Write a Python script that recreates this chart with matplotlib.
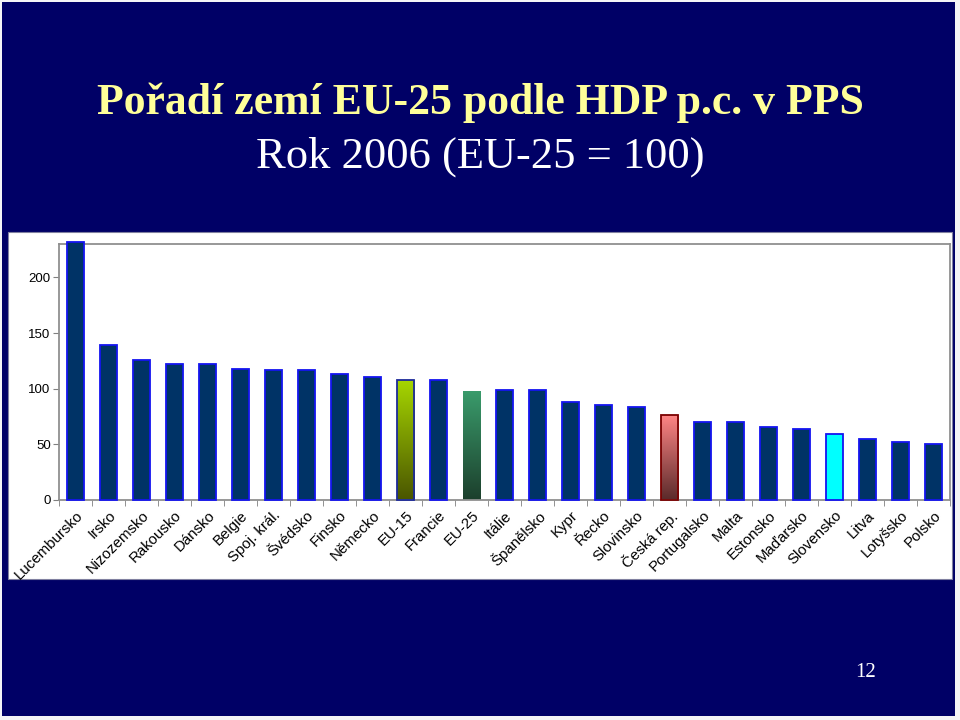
import numpy as np
import matplotlib.pyplot as plt
from matplotlib.patches import Rectangle
from matplotlib.colors import LinearSegmentedColormap

countries = ["Lucembursko", "Irsko", "Nizozemsko", "Rakousko", "Dánsko", "Belgie",
             "Spoj. král.", "Švédsko", "Finsko", "Německo", "EU-15", "Francie",
             "EU-25", "Itálie", "Španělsko", "Kypr", "Řecko", "Slovinsko",
             "Česká rep.", "Portugalsko", "Malta", "Estonsko", "Maďarsko",
             "Slovensko", "Litva", "Lotyšsko", "Polsko"]
hdp = [232, 139, 126, 122.5, 122.5, 118, 116.5, 116.5, 113.5, 110.5, 107.5, 107.5,
       98, 98.5, 98.5, 88, 85.5, 83.5, 76, 70, 70, 65.5, 64, 59.5, 55, 52, 50.5]
y_ticks = [0, 50, 100, 150, 200]

W, H = 960, 720
NAVY = "#000066"


def fx(px):
    return px / W


def fy(py):
    return 1 - py / H


def gradient_bar(ax, bar, top_color, bottom_color):
    x, y = bar.get_x(), bar.get_y()
    w, h = bar.get_width(), bar.get_height()
    cmap = LinearSegmentedColormap.from_list("g", [bottom_color, top_color])
    grad = np.linspace(0, 1, 256).reshape(-1, 1)
    im = ax.imshow(grad, cmap=cmap, origin="lower", extent=[x, x + w, y, y + h],
                   aspect="auto", zorder=2.5)
    im.set_clip_path(bar)
    bar.set_facecolor("none")


def main():
    fig = plt.figure(figsize=(9.6, 7.2), dpi=100, facecolor="#f4f4f6")

    # navy slide background and white chart box
    fig.patches.append(Rectangle((fx(2), fy(716)), fx(953), (714) / H,
                                 transform=fig.transFigure, facecolor=NAVY,
                                 edgecolor="none", zorder=-10))
    fig.patches.append(Rectangle((fx(8), fy(579)), fx(944), 347 / H,
                                 transform=fig.transFigure, facecolor="white",
                                 edgecolor="#8080a0", linewidth=0.8, zorder=-9))

    fig.text(fx(480), fy(114), "Pořadí zemí EU-25 podle HDP p.c. v PPS",
             color="#ffff99", fontsize=31.5, fontweight="bold",
             family="Liberation Serif", ha="center", va="baseline")
    fig.text(fx(480), fy(168), "Rok 2006 (EU-25 = 100)", color="white",
             fontsize=32, family="Liberation Serif", ha="center", va="baseline")
    fig.text(fx(866), fy(677), "12", color="white", fontsize=15,
             family="Liberation Serif", ha="center", va="baseline")

    ax = fig.add_axes([fx(59), fy(500), (950 - 59) / W, (500 - 244) / H])
    ax.set_facecolor("white")
    x = np.arange(len(countries))
    bars = ax.bar(x, hdp, width=0.52, color="#003366", edgecolor="#1414f0",
                  linewidth=1.3, zorder=3, clip_on=False)

    gradient_bar(ax, bars[countries.index("EU-15")], "#a6d600", "#4a5500")
    bars[countries.index("EU-15")].set_edgecolor("#1c2a9a")
    gradient_bar(ax, bars[countries.index("EU-25")], "#3a9c6c", "#1c3f2c")
    bars[countries.index("EU-25")].set_edgecolor("none")
    gradient_bar(ax, bars[countries.index("Česká rep.")], "#ff8585", "#5a2a2a")
    bars[countries.index("Česká rep.")].set_edgecolor("#7a0000")
    sk = bars[countries.index("Slovensko")]
    sk.set_facecolor("#00ffff")

    ax.set_xlim(-0.5, len(countries) - 0.5)
    ax.set_ylim(0, 230)
    ax.set_yticks(y_ticks)
    ax.set_yticklabels([str(v) for v in y_ticks], family="Liberation Sans",
                       fontsize=9.5)
    ax.set_xticks(x)
    ax.set_xticklabels(countries, rotation=45, ha="right", va="top",
                       rotation_mode="anchor", family="Liberation Sans",
                       fontsize=10.8)
    ax.set_xticks(np.arange(-0.5, len(countries), 1), minor=True)
    ax.tick_params(axis="x", which="major", length=0, pad=6)
    ax.tick_params(axis="x", which="minor", length=4, color="#808080",
                   direction="out")
    ax.tick_params(axis="y", length=4, color="#808080", direction="out", pad=2)

    for side in ["left", "bottom", "top", "right"]:
        ax.spines[side].set_color("#909090")
        ax.spines[side].set_linewidth(1.3)

    fig.savefig("out.png", dpi=100, facecolor=fig.get_facecolor())


if __name__ == "__main__":
    main()
